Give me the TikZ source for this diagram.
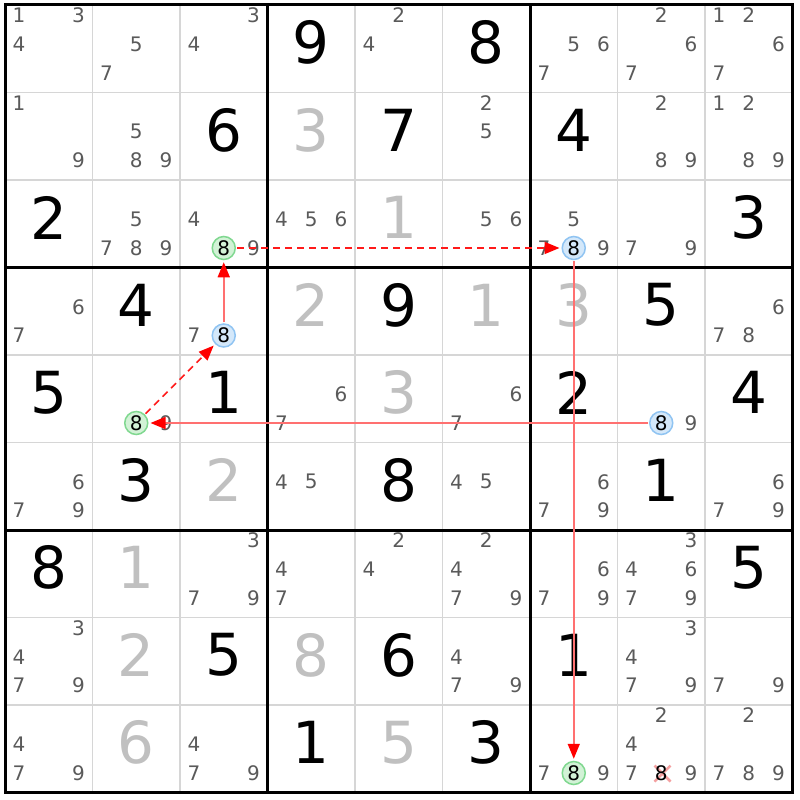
\documentclass[tikz,border=0pt]{standalone}
\usepackage{fontspec}
\setmainfont{DejaVu Sans}
\usetikzlibrary{arrows.meta}
\definecolor{candc}{HTML}{5A5A5A}
\definecolor{solvc}{HTML}{C0C0C0}
\definecolor{thinc}{HTML}{D6D6D6}
\definecolor{gfill}{HTML}{D2F2D6}
\definecolor{gline}{HTML}{80D890}
\definecolor{bfill}{HTML}{D4E8FA}
\definecolor{bline}{HTML}{90C4F2}
\definecolor{soflink}{HTML}{FF7070}
\definecolor{dshlink}{HTML}{FF1A1A}
\definecolor{crossc}{HTML}{F4A0A0}

\newcommand\sdcand[4][cand]{%
  \pgfmathsetmacro\cx{5+(#3-1)*87.5+14+mod(#4-1,3)*29.75}%
  \pgfmathsetmacro\cy{5+(#2-1)*87.5+10.5+floor((#4-1)/3)*28.75}%
  \node[#1] (k#2#3#4) at (\cx,\cy) {#4};}
\newcommand\sdcands[3]{\foreach \kk in {#3}{\sdcand{#1}{#2}{\kk}}}
\newcommand\sdbig[4]{%
  \pgfmathsetmacro\cx{5+(#3-1)*87.5+43.75}%
  \pgfmathsetmacro\cy{5+(#2-1)*87.5+37.75}%
  \node[#1] (v#2#3) at (\cx,\cy) {#4};}
\newcommand\sdmark[5]{%
  \pgfmathsetmacro\cx{5+(#4-1)*87.5+14+mod(#5-1,3)*29.75}%
  \pgfmathsetmacro\cy{5+(#3-1)*87.5+10.5+floor((#5-1)/3)*28.75}%
  \node[#2] (#1) at (\cx,\cy) {#5};}

\tikzset{
  cand/.style={font=\fontsize{20}{20}\selectfont, text=candc, inner sep=0pt, anchor=center},
  candblack/.style={cand, text=black},
  giv/.style={font=\fontsize{58}{58}\selectfont, text=black, inner sep=0pt, anchor=center},
  solv/.style={giv, text=solvc},
  gmark/.style={cand, text=black, circle, draw=gline, fill=gfill, line width=1.5pt, minimum size=23pt},
  bmark/.style={cand, text=black, circle, draw=bline, fill=bfill, line width=1.5pt, minimum size=23pt},
  thinline/.style={draw=thinc, line width=1.5pt},
  thickline/.style={draw=black, line width=3pt},
  sollink/.style={draw=soflink, line width=1.6pt, shorten >=2pt, shorten <=1pt,
     -{Triangle[length=15pt,width=12pt,color=red]}},
  dshlink/.style={draw=dshlink, line width=1.6pt, dash pattern=on 7pt off 5pt, shorten >=2pt, shorten <=1pt,
     -{Triangle[length=15pt,width=12pt,color=red]}},
  crossline/.style={draw=crossc, line width=2.5pt}
}

\begin{document}
\begin{tikzpicture}[x=1pt,y=-1pt]
\useasboundingbox[fill=white] (0,0) rectangle (800,800);
% grid
\foreach \i in {1,2,4,5,7,8}{
  \draw[thinline] (5+\i*87.5,5) -- (5+\i*87.5,792.5);
  \draw[thinline] (5,5+\i*87.5) -- (792.5,5+\i*87.5);
}
\foreach \i in {3,6}{
  \draw[thickline] (5+\i*87.5,5) -- (5+\i*87.5,792.5);
  \draw[thickline] (5,5+\i*87.5) -- (792.5,5+\i*87.5);
}
\draw[thickline] (5,5) rectangle (792.5,792.5);

% row 1
\sdcands{1}{1}{1,3,4}
\sdcands{1}{2}{5,7}
\sdcands{1}{3}{3,4}
\sdbig{giv}{1}{4}{9}
\sdcands{1}{5}{2,4}
\sdbig{giv}{1}{6}{8}
\sdcands{1}{7}{5,6,7}
\sdcands{1}{8}{2,6,7}
\sdcands{1}{9}{1,2,6,7}
% row 2
\sdcands{2}{1}{1,9}
\sdcands{2}{2}{5,8,9}
\sdbig{giv}{2}{3}{6}
\sdbig{solv}{2}{4}{3}
\sdbig{giv}{2}{5}{7}
\sdcands{2}{6}{2,5}
\sdbig{giv}{2}{7}{4}
\sdcands{2}{8}{2,8,9}
\sdcands{2}{9}{1,2,8,9}
% row 3
\sdbig{giv}{3}{1}{2}
\sdcands{3}{2}{5,7,8,9}
\sdcands{3}{3}{4,9}
\sdmark{g33}{gmark}{3}{3}{8}
\sdcands{3}{4}{4,5,6}
\sdbig{solv}{3}{5}{1}
\sdcands{3}{6}{5,6}
\sdcands{3}{7}{5,7,9}
\sdmark{b37}{bmark}{3}{7}{8}
\sdcands{3}{8}{7,9}
\sdbig{giv}{3}{9}{3}
% row 4
\sdcands{4}{1}{6,7}
\sdbig{giv}{4}{2}{4}
\sdcands{4}{3}{7}
\sdmark{b43}{bmark}{4}{3}{8}
\sdbig{solv}{4}{4}{2}
\sdbig{giv}{4}{5}{9}
\sdbig{solv}{4}{6}{1}
\sdbig{solv}{4}{7}{3}
\sdbig{giv}{4}{8}{5}
\sdcands{4}{9}{6,7,8}
% row 5
\sdbig{giv}{5}{1}{5}
\sdcands{5}{2}{9}
\sdmark{g52}{gmark}{5}{2}{8}
\sdbig{giv}{5}{3}{1}
\sdcands{5}{4}{6,7}
\sdbig{solv}{5}{5}{3}
\sdcands{5}{6}{6,7}
\sdbig{giv}{5}{7}{2}
\sdcands{5}{8}{9}
\sdmark{b58}{bmark}{5}{8}{8}
\sdbig{giv}{5}{9}{4}
% row 6
\sdcands{6}{1}{6,7,9}
\sdbig{giv}{6}{2}{3}
\sdbig{solv}{6}{3}{2}
\sdcands{6}{4}{4,5}
\sdbig{giv}{6}{5}{8}
\sdcands{6}{6}{4,5}
\sdcands{6}{7}{6,7,9}
\sdbig{giv}{6}{8}{1}
\sdcands{6}{9}{6,7,9}
% row 7
\sdbig{giv}{7}{1}{8}
\sdbig{solv}{7}{2}{1}
\sdcands{7}{3}{3,7,9}
\sdcands{7}{4}{4,7}
\sdcands{7}{5}{2,4}
\sdcands{7}{6}{2,4,7,9}
\sdcands{7}{7}{6,7,9}
\sdcands{7}{8}{3,4,6,7,9}
\sdbig{giv}{7}{9}{5}
% row 8
\sdcands{8}{1}{3,4,7,9}
\sdbig{solv}{8}{2}{2}
\sdbig{giv}{8}{3}{5}
\sdbig{solv}{8}{4}{8}
\sdbig{giv}{8}{5}{6}
\sdcands{8}{6}{4,7,9}
\sdbig{giv}{8}{7}{1}
\sdcands{8}{8}{3,4,7,9}
\sdcands{8}{9}{7,9}
% row 9
\sdcands{9}{1}{4,7,9}
\sdbig{solv}{9}{2}{6}
\sdcands{9}{3}{4,7,9}
\sdbig{giv}{9}{4}{1}
\sdbig{solv}{9}{5}{5}
\sdbig{giv}{9}{6}{3}
\sdcands{9}{7}{7,9}
\sdmark{g97}{gmark}{9}{7}{8}
\sdcands{9}{8}{2,4,7,9}
\coordinate (xc) at (662.5,773.5);
\draw[crossline] ([shift={(-8,-8)}]xc) -- ([shift={(8,8)}]xc);
\draw[crossline] ([shift={(-8,8)}]xc) -- ([shift={(8,-8)}]xc);
\sdcand[candblack]{9}{8}{8}
\sdcands{9}{9}{2,7,8,9}

% links
\draw[dshlink] (g33) -- (b37);
\draw[sollink] (b37) -- (g97);
\draw[sollink] (b58) -- (g52);
\draw[dshlink] (g52) -- (b43);
\draw[sollink] (b43) -- (g33);
\end{tikzpicture}
\end{document}
